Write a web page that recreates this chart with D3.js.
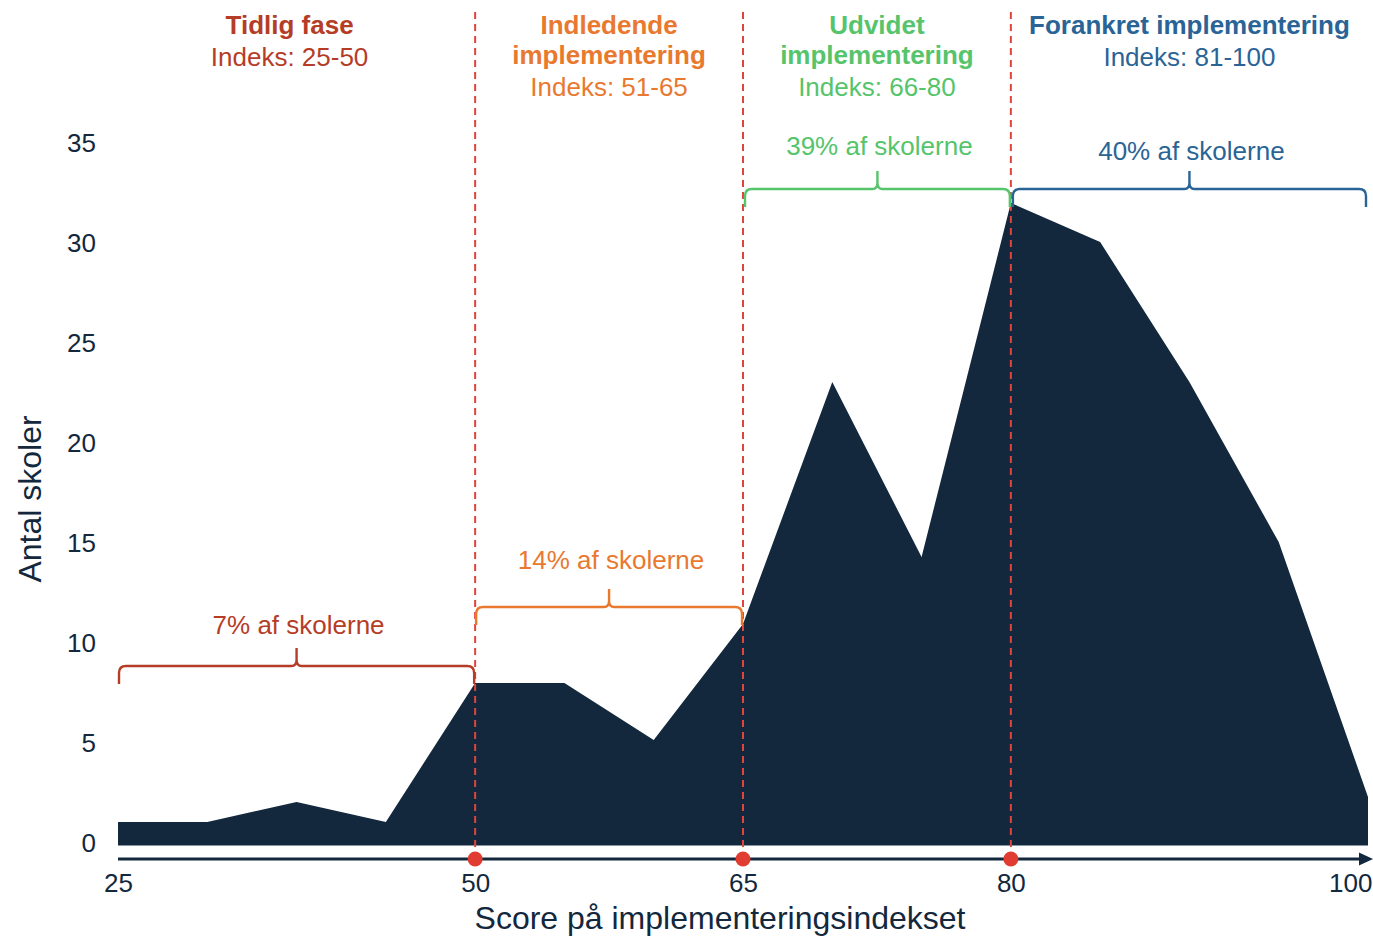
<!DOCTYPE html>
<html>
<head>
<meta charset="utf-8">
<script src="https://cdn.jsdelivr.net/npm/d3@7"></script>
<style>
  html, body { margin: 0; padding: 0; background: #fff; }
  svg { display: block; font-family: "Liberation Sans", Arial, Helvetica, sans-serif; }
</style>
</head>
<body>
<svg id="chart" width="1373" height="937"></svg>
<script>
// ---- data ----
const binIndex = [0,1,2,3,4,5,6,7,8,9,10,11,12,13,14];
const counts   = [1.15,1.15,2.15,1.15,8.1,8.1,5.25,11.05,23.15,14.4,32.1,30.15,23.15,15.15,2.4];
const tickIndex  = [0,4,7,10,14];
const tickLabels = ["25","50","65","80","100"];
const yTicks = [0,5,10,15,20,25,30,35];
const phaseNames  = [["Tidlig fase"],["Indledende","implementering"],["Udvidet","implementering"],["Forankret implementering"]];
const phaseRanges = ["Indeks: 25-50","Indeks: 51-65","Indeks: 66-80","Indeks: 81-100"];
const phaseStart  = [0,4,7,10];
const phaseEnd    = [4,7,10,14];
const phaseShare  = ["7% af skolerne","14% af skolerne","39% af skolerne","40% af skolerne"];
const phaseBraceLevel = [8.95, 11.9, 32.8, 32.8];
const boundaryIndex = [4,7,10];
const phaseColors = ["#b53d27","#e8792f","#55c46b","#2a6496"];

// ---- layout ----
const svg = d3.select("#chart");
const navy = "#13283d";
const x = d3.scaleLinear().domain([0,14]).range([118,1368]);
const y = d3.scaleLinear().domain([0,35]).range([845,145]);
const axisY = 859;

// area
const area = d3.area().x((d,i)=>x(binIndex[i])).y0(y(0)).y1(d=>y(d));
svg.append("path").datum(counts).attr("d", area).attr("fill", navy);

// thin baseline under area
svg.append("line").attr("x1", x(0)).attr("x2", x(14)).attr("y1", y(0)+0.5).attr("y2", y(0)+0.5)
  .attr("stroke", "#8493a2").attr("stroke-width", 1.2);

// dashed boundary lines
svg.selectAll("line.bound").data(boundaryIndex).enter().append("line")
  .attr("class","bound")
  .attr("x1", d=>x(d)).attr("x2", d=>x(d))
  .attr("y1", 12).attr("y2", axisY)
  .attr("stroke", "#e0443a").attr("stroke-width", 2).attr("stroke-dasharray", "7,5");

// y axis
const yAxis = d3.axisLeft(y).tickValues(yTicks).tickSize(0).tickPadding(0);
const gy = svg.append("g").attr("transform", "translate(96,-2)").call(yAxis);
gy.select(".domain").remove();
gy.selectAll("text").attr("font-size", 26).attr("fill", navy).attr("font-family", "Liberation Sans, Arial, sans-serif");

// x axis line with arrow
svg.append("line").attr("x1", x(0)).attr("x2", 1362).attr("y1", axisY).attr("y2", axisY)
  .attr("stroke", navy).attr("stroke-width", 3);
svg.append("path").attr("d", `M1359,${axisY-6.5} L1373,${axisY} L1359,${axisY+6.5} Z`).attr("fill", navy);

const xAxis = d3.axisBottom(x).tickValues(tickIndex).tickFormat((d,i)=>tickLabels[i]).tickSize(0).tickPadding(15);
const gx = svg.append("g").attr("transform", `translate(0,${axisY})`).call(xAxis);
gx.select(".domain").remove();
gx.selectAll("text").attr("font-size", 26).attr("fill", navy).attr("font-family", "Liberation Sans, Arial, sans-serif");
gx.selectAll("text").filter((d,i)=>i===tickIndex.length-1).attr("text-anchor","end").attr("dx", 4);

// red dots
svg.selectAll("circle.dot").data(boundaryIndex).enter().append("circle")
  .attr("cx", d=>x(d)).attr("cy", axisY).attr("r", 7.5).attr("fill", "#e03c31");

// axis titles
svg.append("text").attr("x", 720).attr("y", 929).attr("text-anchor","middle")
  .attr("font-size", 32).attr("fill", navy).text("Score på implementeringsindekset");
svg.append("text").attr("transform","translate(41,499) rotate(-90)").attr("text-anchor","middle")
  .attr("font-size", 32).attr("fill", navy).text("Antal skoler");

// phase headers
const headerBaselines = [[34],[34,64],[34,64],[34]];
phaseNames.forEach((lines,i)=>{
  const cx = (x(phaseStart[i]) + x(phaseEnd[i]))/2 + (i===0 ? -7 : 0);
  lines.forEach((ln,j)=>{
    svg.append("text").attr("x", cx).attr("y", headerBaselines[i][j]).attr("text-anchor","middle")
      .attr("font-size", 26).attr("font-weight","bold").attr("fill", phaseColors[i]).text(ln);
  });
  const rb = headerBaselines[i][lines.length-1] + 32;
  svg.append("text").attr("x", cx).attr("y", rb).attr("text-anchor","middle")
    .attr("font-size", 26).attr("fill", phaseColors[i]).text(phaseRanges[i]);
});

// braces
function bracePath(x1, x2, yy, h){
  const xm = (x1+x2)/2, r = 7;
  return `M${x1},${yy+h} L${x1},${yy+r} Q${x1},${yy} ${x1+r},${yy} L${xm-5},${yy} Q${xm},${yy} ${xm},${yy-6} L${xm},${yy-h}`
       + ` M${xm},${yy-6} Q${xm},${yy} ${xm+5},${yy} L${x2-r},${yy} Q${x2},${yy} ${x2},${yy+r} L${x2},${yy+h}`;
}
const braceInset = [[1,-1],[1,-1],[2,-1],[2,-2]];
const labelOffsets = [32, 38, 34, 29];
phaseStart.forEach((s,i)=>{
  const x1 = x(s)+braceInset[i][0], x2 = x(phaseEnd[i])+braceInset[i][1];
  const yy = y(phaseBraceLevel[i]);
  svg.append("path").attr("d", bracePath(x1, x2, yy, 18))
    .attr("fill","none").attr("stroke", phaseColors[i]).attr("stroke-width", 2.4).attr("stroke-linejoin","round");
  svg.append("text").attr("x", (x1+x2)/2 + 2).attr("y", yy - labelOffsets[i]).attr("text-anchor","middle")
    .attr("font-size", 26).attr("fill", phaseColors[i]).text(phaseShare[i]);
});
</script>
</body>
</html>
